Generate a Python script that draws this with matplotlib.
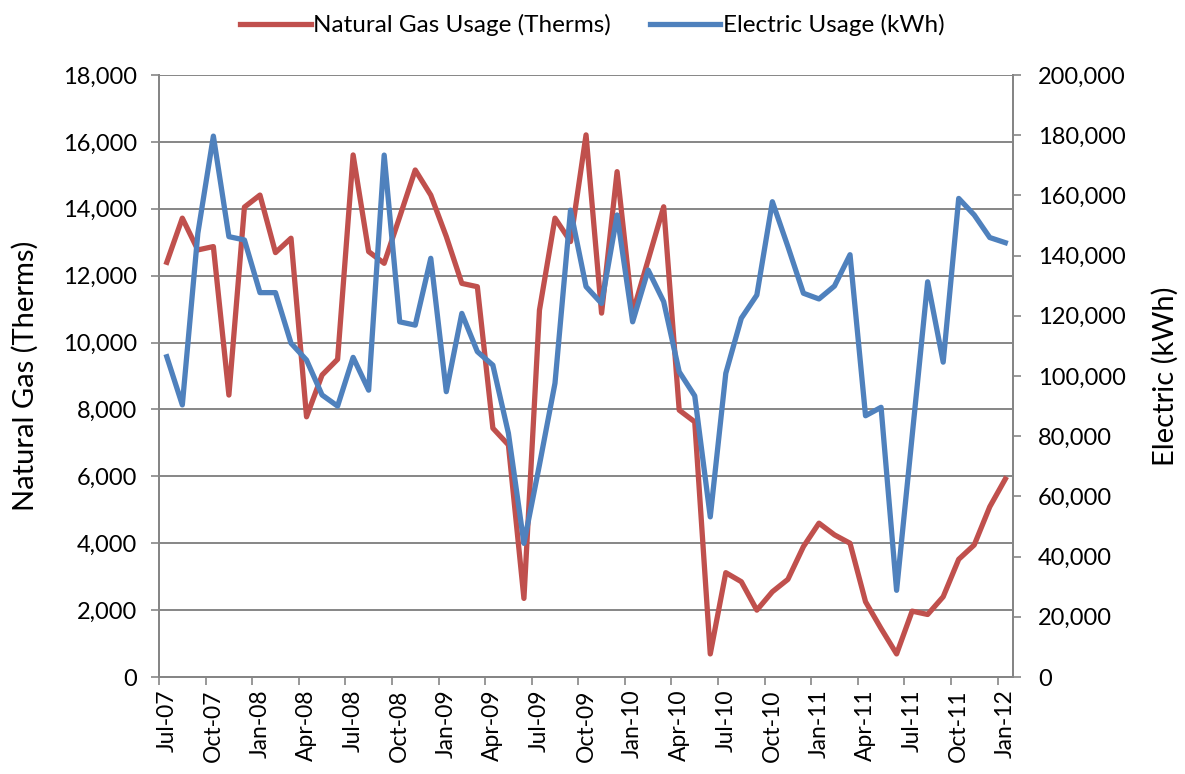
import matplotlib.pyplot as plt
from matplotlib.ticker import FuncFormatter, MultipleLocator

plt.rcParams['font.family'] = ['Lato', 'DejaVu Sans']

months = ['Jul-07', 'Aug-07', 'Sep-07', 'Oct-07', 'Nov-07', 'Dec-07',
          'Jan-08', 'Feb-08', 'Mar-08', 'Apr-08', 'May-08', 'Jun-08',
          'Jul-08', 'Aug-08', 'Sep-08', 'Oct-08', 'Nov-08', 'Dec-08',
          'Jan-09', 'Feb-09', 'Mar-09', 'Apr-09', 'May-09', 'Jun-09',
          'Jul-09', 'Aug-09', 'Sep-09', 'Oct-09', 'Nov-09', 'Dec-09',
          'Jan-10', 'Feb-10', 'Mar-10', 'Apr-10', 'May-10', 'Jun-10',
          'Jul-10', 'Aug-10', 'Sep-10', 'Oct-10', 'Nov-10', 'Dec-10',
          'Jan-11', 'Feb-11', 'Mar-11', 'Apr-11', 'May-11', 'Jun-11',
          'Jul-11', 'Aug-11', 'Sep-11', 'Oct-11', 'Nov-11', 'Dec-11',
          'Jan-12']

gas = [12400, 13720, 12770, 12870, 8430, 14050, 14410, 12690, 13120, 7780,
       9030, 9500, 15610, 12720, 12370, 13760, 15160, 14410, 13170, 11770,
       11670, 7440, 6940, 2350, 10970, 13720, 13020, 16210, 10880, 15110,
       10880, 12470, 14060, 7980, 7630, 690, 3120, 2850, 2000, 2550,
       2920, 3900, 4600, 4250, 4000, 2250, 1450, 690, 1970, 1870,
       2400, 3520, 3950, 5090, 5920]

electric = [106400, 90400, 147400, 179700, 146300, 145200, 127700, 127700,
            110900, 105300, 93700, 90000, 106200, 95300, 173400, 118000,
            116900, 139100, 94800, 120800, 108100, 103600, 81000, 44400,
            70500, 97600, 155100, 129700, 124100, 153500, 118000, 135200,
            124700, 101400, 93400, 53200, 100900, 119200, 126900, 157900,
            143000, 127500, 125600, 129900, 140300, 86800, 89600, 28800,
            80000, 131300, 104600, 159000, 153500, 146000, 144300]

red = '#C0504D'
blue = '#4F81BD'
axis_grey = '#868686'

x = list(range(len(months)))

fig = plt.figure(figsize=(11.85, 7.74), dpi=100)
ax = fig.add_axes([0.1342, 0.1253, 0.7207, 0.7778])
ax2 = ax.twinx()

l1, = ax.plot(x, gas, color=red, lw=3.8, solid_joinstyle='round',
              label='Natural Gas Usage (Therms)')
l2, = ax2.plot(x, electric, color=blue, lw=3.8, solid_joinstyle='round',
               label='Electric Usage (kWh)')

ax.set_xlim(-0.5, len(months) - 0.5)
ax.set_ylim(0, 18000)
ax2.set_ylim(0, 200000)

ax.yaxis.set_major_locator(MultipleLocator(2000))
ax2.yaxis.set_major_locator(MultipleLocator(20000))
comma = FuncFormatter(lambda v, p: f'{int(v):,}')
ax.yaxis.set_major_formatter(comma)
ax2.yaxis.set_major_formatter(comma)

# labels every 3 months, tick marks on category boundaries
ax.set_xticks(x[::3])
ax.set_xticklabels(months[::3], rotation=90)
ax.set_xticks([i - 0.5 for i in x[::3]], minor=True)
ax.tick_params(axis='x', which='major', length=0, pad=9, labelsize=16.5)
ax.tick_params(axis='x', which='minor', length=6, color=axis_grey, width=1.2)
ax.tick_params(axis='y', length=6, color=axis_grey, width=1.2, labelsize=17, pad=10)
ax2.tick_params(axis='y', length=6, color=axis_grey, width=1.2, labelsize=17, pad=12)

ax.grid(axis='y', color=axis_grey, lw=1.4)
ax.set_axisbelow(True)

for a in (ax, ax2):
    a.spines['top'].set_visible(False)
    for s in ('left', 'right', 'bottom'):
        a.spines[s].set_color(axis_grey)
        a.spines[s].set_linewidth(1.4)

ax.set_ylabel('Natural Gas (Therms)', fontsize=21, labelpad=17)
ax2.set_ylabel('Electric (kWh)', fontsize=21, labelpad=19)

fig.legend([l1, l2], [l1.get_label(), l2.get_label()], loc='upper center',
           bbox_to_anchor=(0.5, 1.01), ncol=2, frameon=False, fontsize=17.5,
           handlelength=2.9, handletextpad=0.1, columnspacing=1.6)

plt.savefig('out.png', dpi=100)
